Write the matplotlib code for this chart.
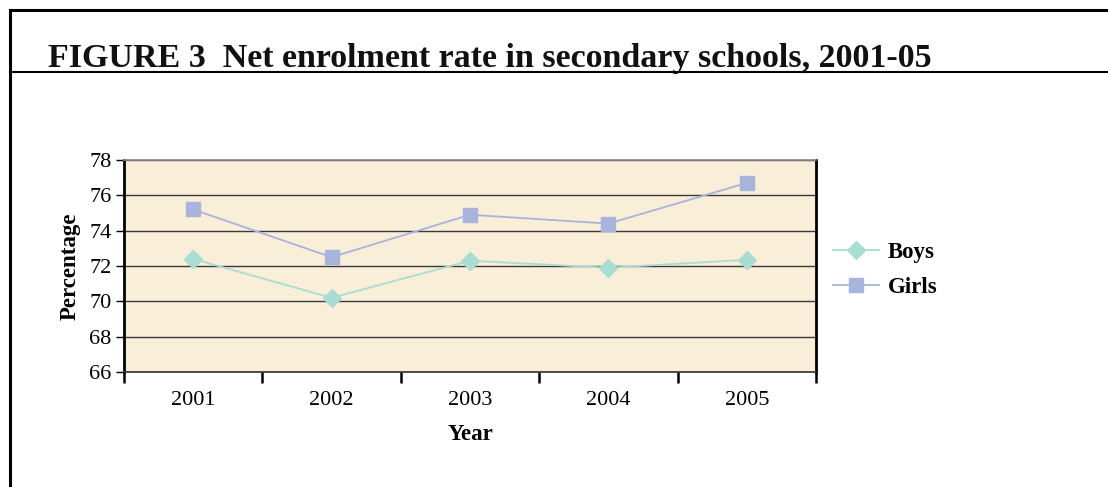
import matplotlib
matplotlib.use("Agg")
import matplotlib.pyplot as plt
from matplotlib.lines import Line2D

years = ["2001", "2002", "2003", "2004", "2005"]
boys = [72.4, 70.2, 72.3, 71.9, 72.35]
girls = [75.2, 72.5, 74.9, 74.4, 76.7]
yticks = [66, 68, 70, 72, 74, 76, 78]

plt.rcParams['font.family'] = ['Liberation Serif', 'DejaVu Serif']

W, H = 1108, 487
fig = plt.figure(figsize=(W/100, H/100), dpi=100)

def fx(px): return px / W
def fy(py): return 1 - py / H

# frame lines
fig.add_artist(Line2D([fx(10), 1], [fy(10), fy(10)], color='black', lw=2.2, transform=fig.transFigure))
fig.add_artist(Line2D([fx(10), fx(10)], [fy(10), 0], color='black', lw=2.2, transform=fig.transFigure))
fig.add_artist(Line2D([fx(10), 1], [fy(72), fy(72)], color='black', lw=1.5, transform=fig.transFigure))

fig.text(fx(48), fy(67.5), "FIGURE 3  Net enrolment rate in secondary schools, 2001-05",
         fontsize=24.5, fontweight='bold', va='baseline', ha='left', color='#111111')

ax = fig.add_axes([fx(124), fy(372), fx(816) - fx(124), fy(160) - fy(372)])
ax.set_facecolor('#F9EED8')
x = list(range(len(years)))
ax.plot(x, boys, color='#A9DDD3', marker='D', markersize=9, lw=1.3, label='Boys', zorder=3)
ax.plot(x, girls, color='#A8B4DC', marker='s', markersize=10, lw=1.3, label='Girls', zorder=3)

ax.set_xlim(-0.5, len(years) - 0.5)
ax.set_ylim(66, 78)
ax.set_yticks(yticks)
ax.set_yticklabels([str(v) for v in yticks], fontsize=16)
ax.yaxis.grid(True, color='#3a3a3a', lw=1.0)
ax.set_axisbelow(True)

ax.set_xticks([i - 0.5 for i in range(len(years) + 1)])
ax.set_xticklabels([])
ax.set_xticks(x, minor=True)
ax.set_xticklabels(years, minor=True, fontsize=16)
ax.tick_params(axis='x', which='major', direction='out', length=8, width=1.8, color='black')
ax.tick_params(axis='x', which='minor', length=0, pad=14)
ax.tick_params(axis='y', direction='out', length=6, width=1.0, color='black', pad=3)

for s in ['left', 'right']:
    ax.spines[s].set_linewidth(2.0)
    ax.spines[s].set_color('black')
ax.spines['bottom'].set_linewidth(1.2)
ax.spines['bottom'].set_color('#333333')
ax.spines['top'].set_linewidth(1.2)
ax.spines['top'].set_color('#888888')

ax.set_ylabel("Percentage", fontsize=16.5, fontweight='bold', labelpad=6)
ax.set_xlabel("Year", fontsize=16.5, fontweight='bold', labelpad=10)

fig.legend(loc='center left', bbox_to_anchor=(fx(833), fy(270)), frameon=False,
           prop={'size': 16.5, 'weight': 'bold'}, handlelength=2.0, labelspacing=0.65,
           handletextpad=0.4, borderaxespad=0, borderpad=0)

fig.savefig("out.png", dpi=100)
